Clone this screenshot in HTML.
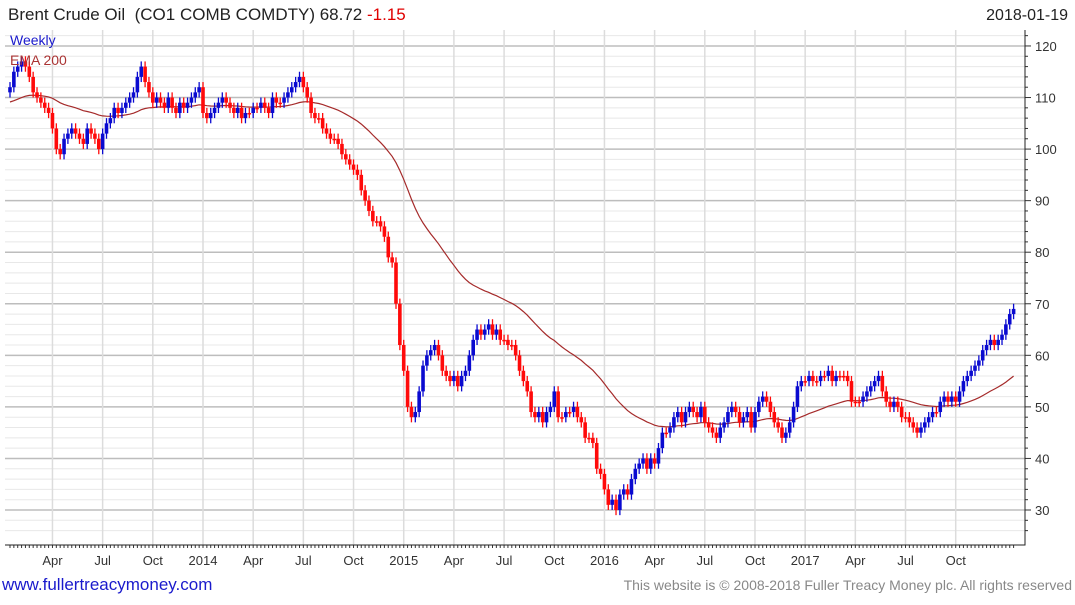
<!DOCTYPE html>
<html><head><meta charset="utf-8">
<style>
body{margin:0;background:#fff;font-family:"Liberation Sans",sans-serif;}
svg text{font-family:"Liberation Sans",sans-serif;}
</style></head>
<body>
<svg width="1075" height="600" viewBox="0 0 1075 600">
<rect x="0" y="0" width="1075" height="600" fill="#fff"/>
<g id="grid"></g>
<g id="ema"></g>
<g id="candles"></g>
<g id="axes"></g>
<text x="8" y="20" font-size="17" fill="#222" xml:space="preserve">Brent Crude Oil  (CO1 COMB COMDTY) 68.72 <tspan fill="#e00000">-1.15</tspan></text>
<text x="1068" y="20" font-size="16" fill="#222" text-anchor="end">2018-01-19</text>
<text x="10" y="45" font-size="14" fill="#1a1acc">Weekly</text>
<text x="10" y="65" font-size="14" fill="#a33">EMA 200</text>
<text x="2" y="590" font-size="17" fill="#1a1acc">www.fullertreacymoney.com</text>
<text x="1072" y="590" font-size="14" fill="#888" text-anchor="end">This website is © 2008-2018 Fuller Treacy Money plc. All rights reserved</text>
</svg>
<script>
const closes=[112,115,116,117,116,114,111,110,109,108,107,104,100,99,102,103,104,103,102,101,104,103,102,100,103,105,106,108,107,108,109,110,111,114,116,113,111,109,110,109,108,110,108,107,109,108,109,110,111,112,
107,106,107,108,109,110,109,108,107,108,106,107,107,108,108,109,108,107,110,109,109,110,111,112,113,114,
112,110,107,106,106,104,103,102,102,101,99,98,97,96,95,92,90,88,86,86,85,83,79,78,70,62,
57,50,48,49,53,58,60,61,62,60,57,56,55,56,54,56,57,60,63,65,64,65,66,64,65,63,63,62,62,60,57,55,53,49,48,49,47,49,50,53,48,48,49,49,50,48,47,44,44,43,38,37,
34,31,32,30,33,34,33,36,38,39,40,38,40,39,42,45,45,46,48,49,47,49,50,49,48,50,47,46,45,44,46,47,49,50,49,47,48,49,46,49,51,52,51,49,47,46,44,45,47,50,54,55,
55,56,55,55,56,56,57,55,56,56,56,55,51,51,51,52,53,54,55,56,53,51,50,51,50,48,48,47,46,45,46,47,48,49,49,51,52,51,52,51,53,55,56,57,58,59,61,62,63,62,63,64,
66,68,69];
const yTicks=[30,40,50,60,70,80,90,100,110,120];
const xLabels=["Apr","Jul","Oct","2014","Apr","Jul","Oct","2015","Apr","Jul","Oct","2016","Apr","Jul","Oct","2017","Apr","Jul","Oct"];
const xLabelWeeks=[11,24,37,50,63,76,89,102,115,128,141,154,167,180,193,206,219,232,245];
const emaSeed=109;
const NS="http://www.w3.org/2000/svg";
function y(v){return 510-(v-30)*5.156;}
function x(i){return 10+i*3.86;}
function mk(tag,attrs,parent){const e=document.createElementNS(NS,tag);for(const k in attrs)e.setAttribute(k,attrs[k]);parent.appendChild(e);return e;}
const grid=document.getElementById('grid'),axes=document.getElementById('axes'),cg=document.getElementById('candles'),eg=document.getElementById('ema');
for(let v=26;v<=124;v+=2){if(y(v)<30||y(v)>545)continue;const major=v%10===0;
 const l=mk('line',{x1:5,x2:1025,y1:y(v),y2:y(v),stroke:major?'#bdbdbd':'#e8e8e8','stroke-width':major?1.5:1},grid);
 
 
 const t=mk('line',{x1:1025,x2:major?1031:1028,y1:y(v),y2:y(v),stroke:'#333'},axes);
 
 }
yTicks.forEach(v=>{const t=mk('text',{x:1035,y:y(v)+5,'font-size':13,fill:'#333'},axes);t.textContent=v;
 
 });
xLabels.forEach((s,k)=>{const xx=x(xLabelWeeks[k]);
 const g=mk('line',{x1:xx,x2:xx,y1:30,y2:545,stroke:'#dcdcdc','stroke-width':1.5},grid);
 
 
 const t=mk('text',{x:xx,y:565,'font-size':13,fill:'#333','text-anchor':'middle'},axes);t.textContent=s;
 
 });
for(let i=0;i<closes.length;i++){const tk=mk('line',{x1:x(i),x2:x(i),y1:545,y2:548,stroke:'#333'},axes);
 
 }
const ax=mk('path',{d:'M1025 30 V545 H5',stroke:'#222',fill:'none'},axes);


let e=emaSeed,pts=[];const a=2/46;
closes.forEach((c,i)=>{e=e+a*(c-e);pts.push(x(i).toFixed(1)+','+y(e).toFixed(1));});
const ep=mk('polyline',{points:pts.join(' '),fill:'none',stroke:'#a52a2a','stroke-width':1.2},eg);


closes.forEach((c,i)=>{const o=i===0?c-1:closes[i-1];const up=c>o;const col=up?'#0a0ad0':'#ff0a0a';
 const hi=Math.max(o,c)+1.0,lo=Math.min(o,c)-1.0;const xx=x(i);
 const g=mk('g',{},cg);
 
 
 mk('line',{x1:xx,x2:xx,y1:y(hi),y2:y(lo),stroke:col,'stroke-width':1.3},g);
 const top=y(Math.max(o,c)),h=Math.max(1.5,y(Math.min(o,c))-top);
 mk('rect',{x:xx-1.8,y:top,width:3.6,height:h,fill:col},g);});
</script>
</body></html>
